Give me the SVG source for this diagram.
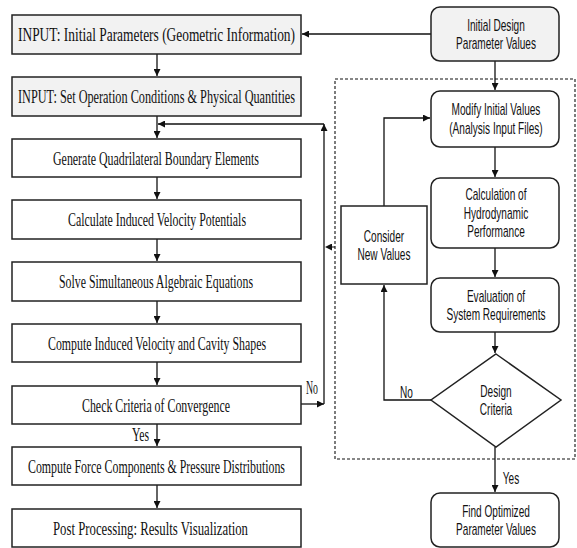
<svg xmlns="http://www.w3.org/2000/svg" width="577" height="548" viewBox="0 0 577 548">
<style>
.box{fill:#fff;stroke:#222;stroke-width:1.5}
.gbox{fill:#f2f2f2;stroke:#222;stroke-width:1.5}
.rbox{fill:#fff;stroke:#222;stroke-width:1.5}
.tl{font-family:"Liberation Serif","Times New Roman",serif;font-size:18.5px;fill:#111}
.tr{font-family:"Liberation Sans",Arial,sans-serif;font-size:16px;fill:#111;text-anchor:middle}
.ln{fill:none;stroke:#111;stroke-width:1.3}
.dash{fill:none;stroke:#111;stroke-width:1.1;stroke-dasharray:3,2}
</style>
<defs>
<marker id="ah" viewBox="0 0 10 10" refX="10" refY="5" markerWidth="7" markerHeight="7" markerUnits="userSpaceOnUse" orient="auto">
<path d="M0,0 L10,5 L0,10 z" fill="#111"/>
</marker>
</defs>

<g id="connectors">
<line class="ln" x1="157" y1="54" x2="157" y2="76" marker-end="url(#ah)"/>
<line class="ln" x1="157" y1="116" x2="157" y2="138" marker-end="url(#ah)"/>
<line class="ln" x1="157" y1="177" x2="157" y2="199" marker-end="url(#ah)"/>
<line class="ln" x1="157" y1="239" x2="157" y2="261" marker-end="url(#ah)"/>
<line class="ln" x1="157" y1="301" x2="157" y2="323" marker-end="url(#ah)"/>
<line class="ln" x1="157" y1="362" x2="157" y2="385" marker-end="url(#ah)"/>
<line class="ln" x1="157" y1="424" x2="157" y2="446" marker-end="url(#ah)"/>
<line class="ln" x1="157" y1="485" x2="157" y2="508" marker-end="url(#ah)"/>
<line class="ln" x1="301" y1="404" x2="324" y2="404" marker-end="url(#ah)"/>
<line class="ln" x1="324" y1="404" x2="324" y2="124" marker-end="url(#ah)"/>
<line class="ln" x1="324" y1="124" x2="158" y2="124" marker-end="url(#ah)"/>
<line class="dash" x1="335" y1="247" x2="325" y2="247" marker-end="url(#ah)"/>
<line class="ln" x1="431" y1="34" x2="302" y2="34" marker-end="url(#ah)"/>
<line class="ln" x1="495" y1="61" x2="495" y2="90" marker-end="url(#ah)"/>
<line class="ln" x1="495" y1="147" x2="495" y2="177" marker-end="url(#ah)"/>
<line class="ln" x1="495" y1="248" x2="495" y2="277" marker-end="url(#ah)"/>
<line class="ln" x1="495" y1="332" x2="495" y2="353" marker-end="url(#ah)"/>
<line class="ln" x1="495" y1="447" x2="495" y2="492" marker-end="url(#ah)"/>
<polyline class="ln" points="431,400 384,400 384,285" marker-end="url(#ah)"/>
<polyline class="ln" points="384,206 384,118 430,118" marker-end="url(#ah)"/>
<rect class="dash" x="335" y="79" width="240" height="380"/>
<text class="tl" x="306" y="394" textLength="12" lengthAdjust="spacingAndGlyphs" font-size="15">No</text>
<text class="tl" x="132" y="441" textLength="17" lengthAdjust="spacingAndGlyphs" font-size="15">Yes</text>
<g transform="scale(0.63,1)">
<text class="tr" x="645.2" y="398">No</text>
<text class="tr" x="811.1" y="484">Yes</text>
</g>
</g>

<g id="n1"><rect class="gbox" x="12" y="15" width="289" height="39"/>
<text class="tl" x="18" y="41" textLength="277" lengthAdjust="spacingAndGlyphs">INPUT:  Initial  Parameters  (Geometric  Information)</text></g>
<g id="n2"><rect class="gbox" x="12" y="77" width="289" height="39"/>
<text class="tl" x="18" y="103" textLength="277" lengthAdjust="spacingAndGlyphs">INPUT: Set Operation Conditions &amp; Physical Quantities</text></g>
<g id="n3"><rect class="box" x="12" y="139" width="289" height="38"/>
<text class="tl" x="53" y="164.5" textLength="206" lengthAdjust="spacingAndGlyphs">Generate Quadrilateral Boundary Elements</text></g>
<g id="n4"><rect class="box" x="12" y="200" width="289" height="39"/>
<text class="tl" x="68" y="226" textLength="178" lengthAdjust="spacingAndGlyphs">Calculate Induced Velocity Potentials</text></g>
<g id="n5"><rect class="box" x="12" y="262" width="289" height="39"/>
<text class="tl" x="59" y="288" textLength="194" lengthAdjust="spacingAndGlyphs">Solve Simultaneous Algebraic Equations</text></g>
<g id="n6"><rect class="box" x="12" y="324" width="289" height="38"/>
<text class="tl" x="48" y="349.5" textLength="218" lengthAdjust="spacingAndGlyphs">Compute Induced Velocity and Cavity Shapes</text></g>
<g id="n7"><rect class="box" x="12" y="386" width="289" height="38"/>
<text class="tl" x="82" y="411.5" textLength="148" lengthAdjust="spacingAndGlyphs">Check Criteria of Convergence</text></g>
<g id="n8"><rect class="box" x="12" y="447" width="289" height="38"/>
<text class="tl" x="28" y="472.5" textLength="257" lengthAdjust="spacingAndGlyphs">Compute Force Components &amp; Pressure Distributions</text></g>
<g id="n9"><rect class="box" x="12" y="509" width="289" height="38"/>
<text class="tl" x="53" y="534.5" textLength="195" lengthAdjust="spacingAndGlyphs">Post Processing: Results Visualization</text></g>

<g id="r1"><rect class="gbox" x="431" y="7" width="128" height="54" rx="9"/>
<g transform="scale(0.63,1)"><text class="tr"><tspan x="787.3" y="31">Initial Design</tspan><tspan x="787.3" y="49.5">Parameter Values</tspan></text></g></g>
<g id="r2"><rect class="rbox" x="431" y="91" width="128" height="56" rx="9"/>
<g transform="scale(0.63,1)"><text class="tr"><tspan x="787.3" y="115">Modify Initial Values</tspan><tspan x="787.3" y="134">(Analysis Input Files)</tspan></text></g></g>
<g id="r3"><rect class="rbox" x="431" y="178" width="128" height="70" rx="9"/>
<g transform="scale(0.63,1)"><text class="tr"><tspan x="787.3" y="200.5">Calculation of</tspan><tspan x="787.3" y="219">Hydrodynamic</tspan><tspan x="787.3" y="237.5">Performance</tspan></text></g></g>
<g id="r4"><rect class="rbox" x="431" y="278" width="128" height="54" rx="9"/>
<g transform="scale(0.63,1)"><text class="tr"><tspan x="787.3" y="302">Evaluation of</tspan><tspan x="787.3" y="320.5">System Requirements</tspan></text></g></g>
<g id="r5"><polygon class="rbox" points="496,354 561,400 496,447 431,400"/>
<g transform="scale(0.63,1)"><text class="tr"><tspan x="787.3" y="397">Design</tspan><tspan x="787.3" y="415.5">Criteria</tspan></text></g></g>
<g id="r6"><rect class="rbox" x="431" y="493" width="128" height="54" rx="9"/>
<g transform="scale(0.63,1)"><text class="tr"><tspan x="787.3" y="517">Find Optimized</tspan><tspan x="787.3" y="535.5">Parameter Values</tspan></text></g></g>
<g id="c1"><rect class="box" x="341" y="206" width="86" height="78"/>
<g transform="scale(0.63,1)"><text class="tr"><tspan x="609.5" y="242">Consider</tspan><tspan x="609.5" y="260.5">New Values</tspan></text></g></g>
</svg>
